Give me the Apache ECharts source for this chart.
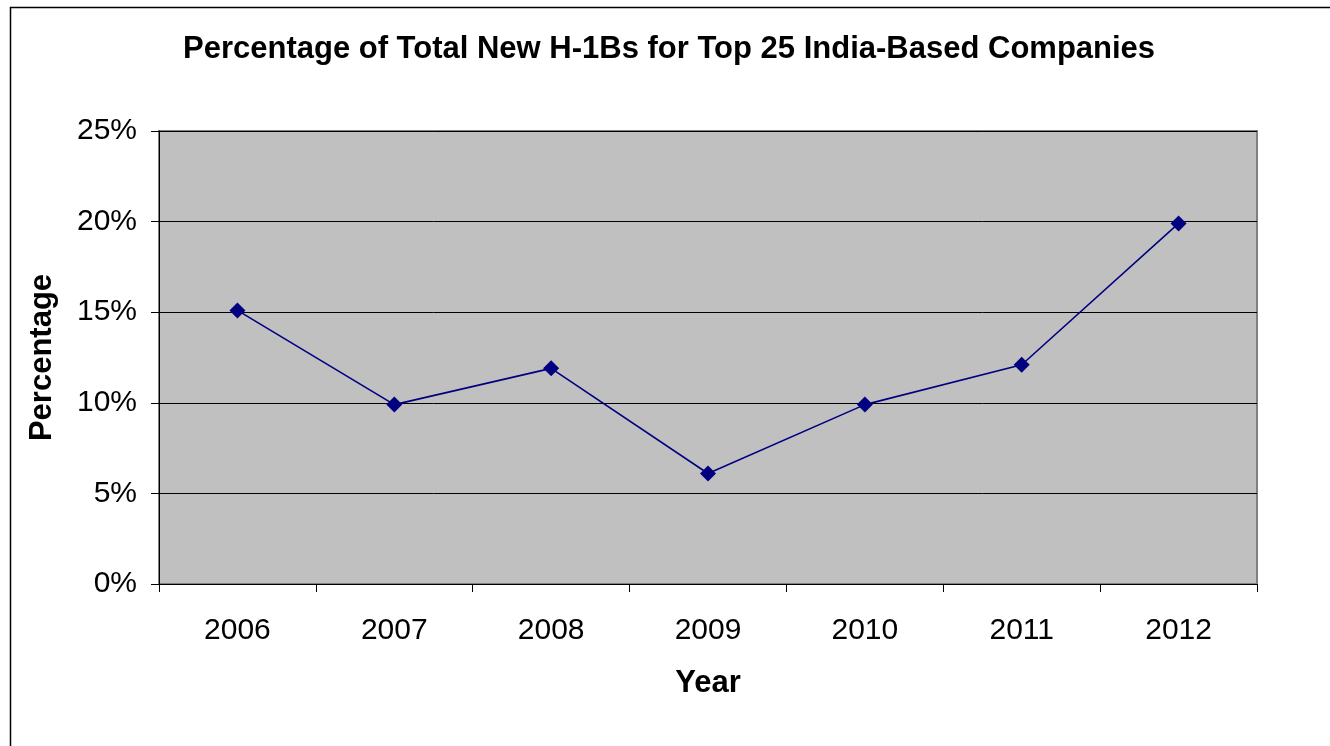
<!DOCTYPE html>
<html>
<head>
<meta charset="utf-8">
<script src="https://cdn.jsdelivr.net/npm/echarts@6/dist/echarts.min.js"></script>
<style>
html,body{margin:0;padding:0;background:#fff;}
#c{width:1330px;height:746px;}
</style>
</head>
<body>
<div id="c"></div>
<script>
const title = 'Percentage of Total New H-1Bs for Top 25 India-Based Companies';
const years = ['2006', '2007', '2008', '2009', '2010', '2011', '2012'];
const percentages = [15.1, 9.9, 11.9, 6.1, 9.9, 12.1, 19.9];
const yTicks = [0, 5, 10, 15, 20, 25];

const chart = echarts.init(document.getElementById('c'));
const font = '"Liberation Sans", Arial, sans-serif';
chart.setOption({
  animation: false,
  backgroundColor: '#ffffff',
  graphic: [{
    type: 'rect', left: 8, top: 5,
    shape: { x: 0, y: 0, width: 1340, height: 760 },
    style: { fill: 'none', stroke: '#000', lineWidth: 1.5 }, silent: true
  }],
  title: {
    text: title, left: 178, top: 29,
    textStyle: { fontFamily: font, fontSize: 31, fontWeight: 'bold', color: '#000' }
  },
  grid: {
    left: 159, right: 73, top: 131, bottom: 162,
    show: true, backgroundColor: '#c0c0c0', borderColor: '#808080', borderWidth: 2
  },
  xAxis: {
    type: 'category', data: years, boundaryGap: true,
    name: 'Year', nameLocation: 'middle', nameGap: 84,
    nameTextStyle: { fontFamily: font, fontSize: 31, fontWeight: 'bold', color: '#000' },
    axisLine: { lineStyle: { color: '#000', width: 1 } },
    axisTick: { show: true, length: 8, alignWithLabel: false, lineStyle: { color: '#000' } },
    axisLabel: { fontFamily: font, fontSize: 30, color: '#000', margin: 32 },
    splitLine: { show: false }
  },
  yAxis: {
    type: 'value', min: 0, max: 25, interval: 5,
    name: 'Percentage', nameLocation: 'middle', nameGap: 101, nameRotate: 90,
    nameTextStyle: { fontFamily: font, fontSize: 31, fontWeight: 'bold', color: '#000' },
    axisLine: { show: true, lineStyle: { color: '#000', width: 1 } },
    axisTick: { show: true, length: 8, lineStyle: { color: '#000' } },
    axisLabel: {
      fontFamily: font, fontSize: 30, color: '#000', margin: 22,
      formatter: v => (yTicks.includes(v) ? v + '%' : '')
    },
    splitLine: { show: true, lineStyle: { color: '#000', width: 1 } }
  },
  series: [{
    type: 'line', data: percentages,
    symbol: 'diamond', symbolSize: 16,
    lineStyle: { color: '#000080', width: 1.6 },
    itemStyle: { color: '#000080' }
  }]
});
</script>
</body>
</html>
